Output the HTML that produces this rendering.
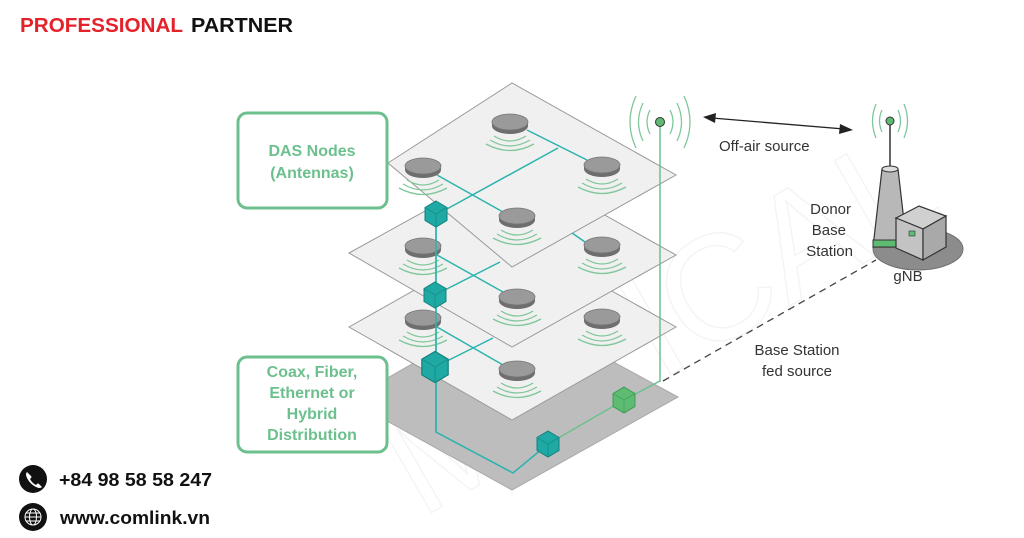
<!DOCTYPE html>
<html><head><meta charset="utf-8"><style>
html,body{margin:0;padding:0;background:#fff;}
svg{display:block}
</style></head><body>
<svg width="1024" height="538" viewBox="0 0 1024 538" xmlns="http://www.w3.org/2000/svg" font-family="Liberation Sans, sans-serif">
<defs>
<g id="ant">
  <path d="M-16,14 Q0,24 16,14" fill="none" stroke="#7fc79a" stroke-width="1.3"/>
  <path d="M-20,18 Q0,30 20,18" fill="none" stroke="#7fc79a" stroke-width="1.3"/>
  <path d="M-24,22 Q0,35 24,22" fill="none" stroke="#7fc79a" stroke-width="1.3"/>
  <path d="M-18,0 L-18,4 A18,8 0 0 0 18,4 L18,0 Z" fill="#6e6e6e"/>
  <ellipse cx="0" cy="0" rx="18" ry="8" fill="#9a9a9a" stroke="#777" stroke-width="0.8"/>
</g>
<g id="hex">
  <polygon points="0,-13 11,-6.5 11,6.5 0,13 -11,6.5 -11,-6.5" fill="#1fa9a5" stroke="#14807c" stroke-width="1"/>
  <path d="M-11,-6.5 L0,0 L11,-6.5 M0,0 L0,13" stroke="#168f8b" stroke-width="0.8" fill="none"/>
</g>
</defs>

<!-- header -->
<text x="20" y="32" font-size="20" font-weight="bold" fill="#e3222b" textLength="163" lengthAdjust="spacingAndGlyphs">PROFESSIONAL</text>
<text x="191" y="32" font-size="20" font-weight="bold" fill="#111" textLength="102" lengthAdjust="spacingAndGlyphs">PARTNER</text>

<!-- watermark -->
<text x="330" y="420" font-size="150" fill="none" stroke="#f4f4f4" stroke-width="1.5" transform="rotate(-30 560 300)">MIRICAL</text>

<!-- gray base -->
<polygon points="349,400 512,307 678,397 512,490" fill="#bdbdbd" stroke="#a8a8a8"/>
<!-- third plane -->
<polygon points="349,327 512,235 676,327 512,420" fill="#f0f0f0" stroke="#9a9a9a" stroke-width="1"/>
<!-- middle plane -->
<polygon points="349,253 512,163 676,255 512,347" fill="#f0f0f0" stroke="#9a9a9a" stroke-width="1"/>
<!-- top plane -->
<polygon points="388,163 512,83 676,175 512,267" fill="#f0f0f0" stroke="#9a9a9a" stroke-width="1"/>

<g stroke="#2bb3ad" stroke-width="1.5" fill="none">
  <path d="M527,130 L587,160"/>
  <path d="M436,215 L558,148"/>
  <path d="M437,175 L503,212"/>
</g>
<use href="#ant" x="510" y="122"/>
<use href="#ant" x="423" y="166"/>
<use href="#ant" x="602" y="165"/>
<use href="#ant" x="517" y="216"/>

<path d="M436,215 L436,432 L513,473 L548,444" stroke="#2bb3ad" stroke-width="1.5" fill="none"/>
<path d="M548,444 L624,400 L660,381" stroke="#6cc08e" stroke-width="1.5" fill="none"/>

<g stroke="#2bb3ad" stroke-width="1.5" fill="none">
  <path d="M435,295 L500,262"/>
  <path d="M437,255 L503,292"/>
  <path d="M572,233 L585,242"/>
</g>
<g stroke="#2bb3ad" stroke-width="1.5" fill="none">
  <path d="M435,367 L493,338"/>
  <path d="M437,327 L503,365"/>
</g>

<use href="#ant" x="423" y="246"/>
<use href="#ant" x="602" y="245"/>
<use href="#ant" x="517" y="297"/>
<use href="#ant" x="423" y="318"/>
<use href="#ant" x="602" y="317"/>
<use href="#ant" x="517" y="369"/>

<line x1="436" y1="220" x2="436" y2="432" stroke="#2bb3ad" stroke-width="1.5"/>
<use href="#hex" x="436" y="214"/>
<use href="#hex" x="435" y="295"/>
<use href="#hex" x="435" y="367" transform="translate(-87 -73.4) scale(1.2)" />
<use href="#hex" x="548" y="444"/>
<g transform="translate(624,400)">
  <polygon points="0,-13 11,-6.5 11,6.5 0,13 -11,6.5 -11,-6.5" fill="#5dbb72" stroke="#3e9a55"/>
  <path d="M-11,-6.5 L0,0 L11,-6.5 M0,0 L0,13" stroke="#47a25d" stroke-width="0.8" fill="none"/>
</g>

<line x1="660" y1="124" x2="660" y2="382" stroke="#6cc08e" stroke-width="1.5"/>
<circle cx="660" cy="122" r="4.5" fill="#5dbb72" stroke="#333" stroke-width="1"/>
<g fill="none" stroke="#7fc79a" stroke-width="1.3">
  <path d="M650,110 Q644,122 650,134"/><path d="M670,110 Q676,122 670,134"/>
  <path d="M643,103 Q634,122 643,141"/><path d="M677,103 Q686,122 677,141"/>
  <path d="M636,96 Q624,122 636,148"/><path d="M684,96 Q696,122 684,148"/>
</g>

<rect x="238" y="113" width="149" height="95" rx="9" fill="#fff" stroke="#6cc08e" stroke-width="3"/>
<text x="312" y="156" font-size="16" font-weight="bold" fill="#6cc08e" text-anchor="middle">DAS Nodes</text>
<text x="312" y="178" font-size="16" font-weight="bold" fill="#6cc08e" text-anchor="middle">(Antennas)</text>
<rect x="238" y="357" width="149" height="95" rx="9" fill="#fff" stroke="#6cc08e" stroke-width="3"/>
<g font-size="16" font-weight="bold" fill="#6cc08e" text-anchor="middle">
<text x="312" y="377">Coax, Fiber,</text>
<text x="312" y="398">Ethernet or</text>
<text x="312" y="419">Hybrid</text>
<text x="312" y="440">Distribution</text>
</g>

<line x1="712" y1="118" x2="844" y2="129" stroke="#222" stroke-width="1.3"/>
<polygon points="703,117 716,113 715,123" fill="#222"/>
<polygon points="853,130 840,124 839,134" fill="#222"/>
<text x="719" y="151" font-size="15" fill="#333">Off-air source</text>

<line x1="663" y1="381" x2="876" y2="260" stroke="#444" stroke-width="1.3" stroke-dasharray="7,5"/>
<text x="797" y="355" font-size="15" fill="#333" text-anchor="middle">Base Station</text>
<text x="797" y="376" font-size="15" fill="#333" text-anchor="middle">fed source</text>

<ellipse cx="918" cy="249" rx="45" ry="21" fill="#8c8c8c" stroke="#6e6e6e"/>
<line x1="890" y1="122" x2="890" y2="170" stroke="#333" stroke-width="1.5"/>
<circle cx="890" cy="121" r="4" fill="#5dbb72" stroke="#333"/>
<g fill="none" stroke="#7fc79a" stroke-width="1.3">
  <path d="M882,110 Q877,121 882,132"/><path d="M898,110 Q903,121 898,132"/>
  <path d="M876,104 Q869,121 876,138"/><path d="M904,104 Q911,121 904,138"/>
</g>
<path d="M882,169 L898,169 L907,247 L873,247 Z" fill="#b8b8b8" stroke="#333" stroke-width="1.2"/>
<ellipse cx="890" cy="169" rx="8" ry="3" fill="#ddd" stroke="#333"/>
<path d="M873,240 L907,240 L907,247 L873,247 Z" fill="#5dbb72" stroke="#333" stroke-width="1"/>
<polygon points="896,218 919,206 946,216 923,229" fill="#d0d0d0" stroke="#333" stroke-width="1.2"/>
<polygon points="896,218 923,229 923,260 896,248" fill="#c3c3c3" stroke="#333" stroke-width="1.2"/>
<polygon points="923,229 946,216 946,247 923,260" fill="#a9a9a9" stroke="#333" stroke-width="1.2"/>
<rect x="909" y="231" width="6" height="5" fill="#5dbb72" stroke="#333" stroke-width="0.6"/>
<text x="851" y="214" font-size="15" fill="#333" text-anchor="end">Donor</text>
<text x="846" y="235" font-size="15" fill="#333" text-anchor="end">Base</text>
<text x="853" y="256" font-size="15" fill="#333" text-anchor="end">Station</text>
<text x="908" y="281" font-size="15" fill="#333" text-anchor="middle">gNB</text>

<circle cx="33" cy="479" r="14" fill="#111"/>
<path d="M27,472 q-2,2 0,6 q3,6 9,9 q4,2 6,0 l-3,-3 q-1,-1 -2,0 l-1,1 q-4,-2 -6,-6 l1,-1 q1,-1 0,-2 z" fill="#fff"/>
<text x="59" y="486" font-size="18" font-weight="bold" fill="#111" textLength="153" lengthAdjust="spacingAndGlyphs">+84 98 58 58 247</text>
<circle cx="33" cy="517" r="14" fill="#111"/>
<g fill="none" stroke="#fff" stroke-width="1">
<circle cx="33" cy="517" r="8"/><ellipse cx="33" cy="517" rx="3.5" ry="8"/>
<line x1="25" y1="517" x2="41" y2="517"/><line x1="26" y1="513" x2="40" y2="513"/><line x1="26" y1="521" x2="40" y2="521"/>
</g>
<text x="60" y="524" font-size="18" font-weight="bold" fill="#111" textLength="150" lengthAdjust="spacingAndGlyphs">www.comlink.vn</text>
</svg>
</body></html>
